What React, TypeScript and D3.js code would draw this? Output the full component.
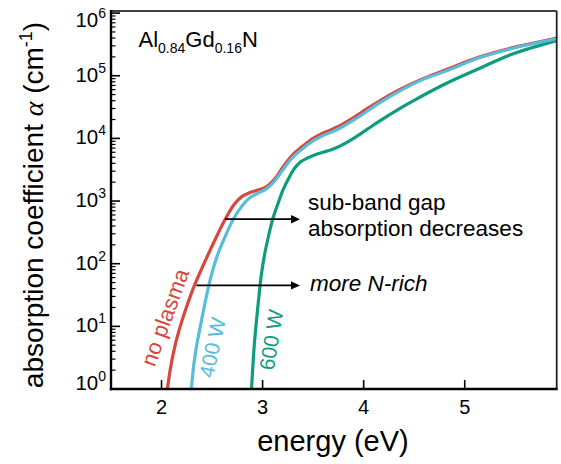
import React from "react";
import * as d3 from "d3";

// energy (eV) and absorption coefficient (cm^-1)
const noPlasmaE = [2.058, 2.085, 2.115, 2.15, 2.2, 2.26, 2.33, 2.42, 2.52, 2.63, 2.72, 2.8, 2.88, 2.96, 3.04, 3.12, 3.2, 3.3, 3.4, 3.5, 3.62, 3.75, 3.9, 4.03, 4.16, 4.36, 4.6, 4.82, 5.15, 5.48, 5.91];
const noPlasmaA = [1, 2.0, 3.6, 6.3, 12, 23.4, 46.8, 100, 224, 513, 891, 1200, 1380, 1510, 1700, 2240, 3470, 5500, 7590, 10000, 12600, 15500, 21400, 29500, 39800, 60300, 91200, 126000, 200000, 282000, 398000];

const w400E = [2.295, 2.32, 2.35, 2.39, 2.44, 2.49, 2.55, 2.62, 2.71, 2.8, 2.88, 2.96, 3.04, 3.12, 3.2, 3.3, 3.4, 3.5, 3.62, 3.75, 3.9, 4.03, 4.16, 4.36, 4.6, 4.82, 5.15, 5.48, 5.91];
const w400A = [1, 2.5, 5.2, 11.2, 28.2, 63, 132, 251, 513, 851, 1150, 1350, 1580, 2090, 3160, 5010, 6920, 9120, 11500, 14100, 19500, 26900, 37200, 57500, 89100, 120000, 195000, 275000, 389000];

const w600E = [2.89, 2.905, 2.92, 2.94, 2.965, 2.99, 3.02, 3.06, 3.1, 3.15, 3.2, 3.26, 3.32, 3.38, 3.45, 3.52, 3.6, 3.68, 3.77, 3.9, 4.03, 4.16, 4.36, 4.49, 4.82, 5.15, 5.48, 5.91];
const w600A = [1, 2.5, 5.6, 12.6, 31.6, 70.8, 141, 282, 513, 891, 1480, 2340, 3390, 4270, 4900, 5500, 6030, 6610, 7590, 10000, 13800, 19100, 30200, 39800, 75900, 132000, 224000, 363000];

const xTicks = [2, 3, 4, 5];
const yExponents = [0, 1, 2, 3, 4, 5, 6];

const RED = "#d8473e";
const BLUE = "#58bcdc";
const GREEN = "#0f9b7d";

export default function App() {
  const left = 111, right = 556.7, top = 11, bottom = 389;
  const x = d3.scaleLinear().domain([1.5, 5.91]).range([left, right]);
  const y = d3.scaleLog().domain([1, 1.08e6]).range([bottom, top]);

  const line = d3
    .line<[number, number]>()
    .x((d) => x(d[0]))
    .y((d) => y(d[1]))
    .curve(d3.curveCatmullRom.alpha(0.5));

  const series = [
    { e: w600E, a: w600A, c: GREEN },
    { e: noPlasmaE, a: noPlasmaA, c: RED },
    { e: w400E, a: w400A, c: BLUE },
  ];

  const minor: number[] = [];
  for (let k = 0; k < 6; k++) for (let m = 2; m <= 9; m++) minor.push(m * Math.pow(10, k));

  const font = "'Liberation Sans', Arial, Helvetica, sans-serif";

  const arrows = [
    { e0: 2.63, e1: 3.37, a: 513 },
    { e0: 2.345, e1: 3.37, a: 45 },
  ];

  return (
    <svg width={561} height={464} style={{ position: "absolute", left: 0, top: 0 }} fontFamily={font}>
      <defs>
        <clipPath id="plot">
          <rect x={left} y={top} width={right - left} height={bottom - top} />
        </clipPath>
      </defs>
      <rect width={561} height={464} fill="#fff" />

      <g clipPath="url(#plot)">
        {series.map((s, i) => (
          <path
            key={i}
            d={line(s.e.map((e, j) => [e, s.a[j]] as [number, number])) || ""}
            fill="none"
            stroke={s.c}
            strokeWidth={3.2}
            strokeLinejoin="round"
          />
        ))}
      </g>

      {/* frame */}
      <line x1={left} x2={right} y1={top} y2={top} stroke="#000" strokeWidth={1.6} />
      <line x1={right} x2={right} y1={top} y2={bottom} stroke="#222" strokeWidth={1.8} />
      <line x1={left} x2={left} y1={top - 1} y2={bottom + 1.2} stroke="#000" strokeWidth={2.4} />
      <line x1={left - 1.2} x2={right + 0.9} y1={bottom} y2={bottom} stroke="#000" strokeWidth={2.4} />

      {/* y ticks */}
      {yExponents.map((k) => (
        <line key={"ym" + k} x1={left} x2={left + 9} y1={y(Math.pow(10, k))} y2={y(Math.pow(10, k))} stroke="#000" strokeWidth={1.6} />
      ))}
      {minor.map((v, i) => (
        <line key={"yn" + i} x1={left} x2={left + 4.5} y1={y(v)} y2={y(v)} stroke="#000" strokeWidth={1.2} />
      ))}
      {yExponents.map((k) => {
        const nudge = k === 6 ? 7 : k === 0 ? -6 : -1;
        return (
          <text key={"yl" + k} x={106} y={y(Math.pow(10, k)) + nudge + 7} textAnchor="end" fontSize={20.5} fill="#000">
            10
            <tspan fontSize={14} dy={-9}>
              {k}
            </tspan>
          </text>
        );
      })}

      {/* x ticks */}
      {xTicks.map((t) => (
        <g key={"x" + t}>
          <line x1={x(t)} x2={x(t)} y1={bottom} y2={bottom - 9} stroke="#000" strokeWidth={1.6} />
          <text x={x(t)} y={414} textAnchor="middle" fontSize={20} fill="#000">
            {t}
          </text>
        </g>
      ))}

      {/* axis labels */}
      <text x={333} y={451} textAnchor="middle" fontSize={29} fill="#000">
        energy (eV)
      </text>
      <text x={43} y={205} transform="rotate(-90 43 205)" textAnchor="middle" fontSize={28} fill="#000">
        absorption coefficient{" "}
        <tspan fontFamily="'Liberation Serif', 'Times New Roman', serif" fontStyle="italic">
          α
        </tspan>{" "}
        (cm
        <tspan fontSize={18} dy={-11}>
          -1
        </tspan>
        <tspan dy={11}>)</tspan>
      </text>

      {/* title */}
      <text x={138.5} y={47} fontSize={22} fill="#000">
        Al
        <tspan fontSize={14} dy={6}>0.84</tspan>
        <tspan dy={-6}>Gd</tspan>
        <tspan fontSize={14} dy={6}>0.16</tspan>
        <tspan dy={-6}>N</tspan>
      </text>

      {/* arrows */}
      {arrows.map((a, i) => {
        const yy = y(a.a);
        const x0 = x(a.e0);
        const x1 = x(a.e1);
        return (
          <g key={"ar" + i}>
            <line x1={x0} x2={x1 - 6} y1={yy} y2={yy} stroke="#000" strokeWidth={1.8} />
            <path d={`M${x1},${yy} L${x1 - 9},${yy - 4.2} L${x1 - 9},${yy + 4.2} Z`} fill="#000" />
          </g>
        );
      })}

      {/* annotations */}
      <text x={308} y={210} fontSize={22.5} fill="#000">sub-band gap</text>
      <text x={308} y={236} fontSize={22.5} fill="#000">absorption decreases</text>
      <text x={310} y={291} fontSize={22.5} fontStyle="italic" fill="#000">more N-rich</text>

      {/* curve labels */}
      <text x={172} y={320} transform="rotate(-70 172 320)" textAnchor="middle" fontSize={22} fill={RED}>
        no plasma
      </text>
      <text x={219.5} y={349} transform="rotate(-78 219.5 349)" textAnchor="middle" fontSize={21} fill={BLUE}>
        400 W
      </text>
      <text x={278.5} y={341} transform="rotate(-81 278.5 341)" textAnchor="middle" fontSize={21} fill={GREEN}>
        600 W
      </text>
    </svg>
  );
}
